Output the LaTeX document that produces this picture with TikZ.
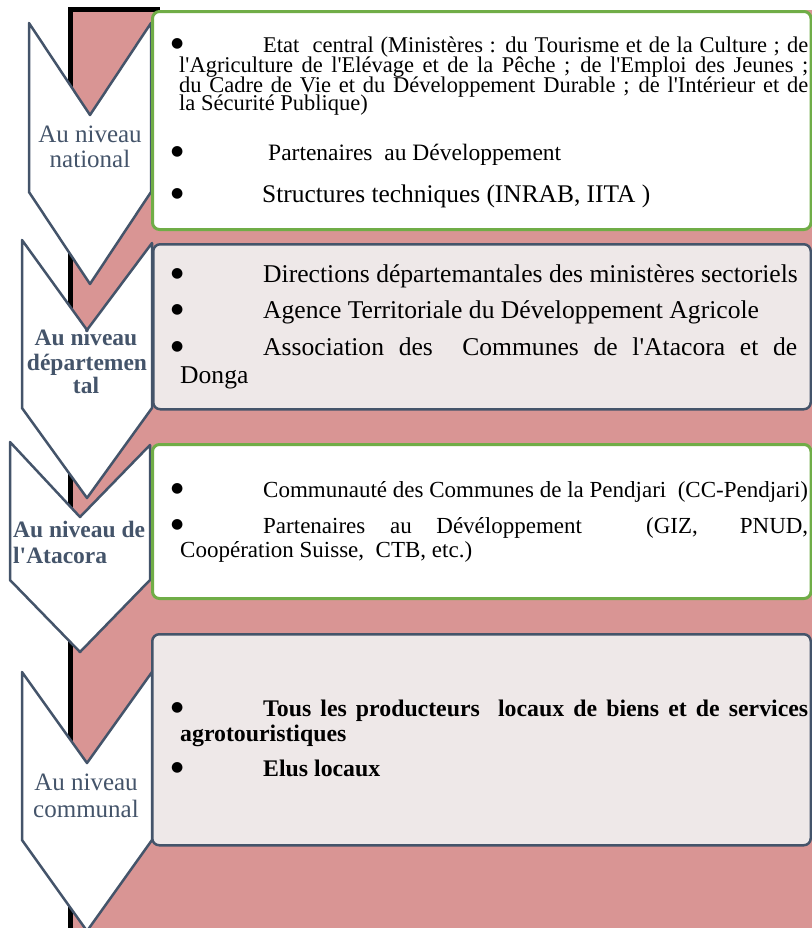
\documentclass[tikz,border=0pt]{standalone}
\usepackage{fontspec}
\setmainfont{Liberation Serif}[Ligatures=TeXOff]
\newfontfamily\dvfont{DejaVu Sans}
\definecolor{pinkbg}{HTML}{D99594}
\definecolor{slate}{HTML}{44546A}
\definecolor{grn}{HTML}{70AD47}
\definecolor{lightbox}{HTML}{EEE8E8}
\newcommand{\bu}[1][92bp]{\makebox[#1][l]{\raisebox{4.5bp}{\fontsize{14bp}{14bp}\dvfont\mdseries ●}}}
\newcommand{\fsz}[1]{\fontsize{#1bp}{#1bp}\selectfont}
\begin{document}
\begin{tikzpicture}[x=1bp,y=-1bp,
  chev/.style={draw=slate, line width=2.5bp, fill=white, line join=round},
  gbox/.style={draw=grn, line width=3bp, fill=white, rounded corners=7bp, anchor=north west, inner sep=0pt},
  sbox/.style={draw=slate, line width=2.5bp, fill=lightbox, rounded corners=7bp, anchor=north west, inner sep=0pt},
  txt/.style={inner sep=0pt, anchor=base west},
  lab/.style={inner sep=0pt, anchor=base, text=slate},
  labw/.style={inner sep=0pt, anchor=base west, text=slate}]
\useasboundingbox (0,0) rectangle (812,928);
\clip (0,0) rectangle (812,928);
% background
\fill[pinkbg] (70.5,9.5) rectangle (830,940);
\draw[line width=5bp] (70.5,940) -- (70.5,9.5) -- (160,9.5);
% chevrons
\draw[chev] (29,23) -- (90,115) -- (151,23) -- (151,192) -- (90,284) -- (29,192) -- cycle;
\draw[chev] (22,240) -- (87,330) -- (152,243) -- (152,408) -- (87,498) -- (22,408) -- cycle;
\draw[chev] (10,442) -- (80,517) -- (150,445) -- (150,580) -- (80,652) -- (10,580) -- cycle;
\draw[chev] (22,672) -- (87,763) -- (152,672) -- (152,840) -- (87,931) -- (22,840) -- cycle;
% boxes
\node[gbox, minimum width=658.5bp, minimum height=218bp] (box1) at (151,10) {};
\node[sbox, minimum width=657.5bp, minimum height=165bp] (box2) at (152,243) {};
\node[gbox, minimum width=658.5bp, minimum height=154bp] (box3) at (151,443) {};
\node[sbox, minimum width=658.5bp, minimum height=211bp] (box4) at (151,633) {};
% chevron labels
\node[lab, font=\fsz{25}] (c1a) at (90,142) {Au niveau};
\node[lab, font=\fsz{25}] (c1b) at (90,167) {national};
\node[lab, font=\fsz{23.5}\bfseries] (c2a) at (86,345) {Au niveau};
\node[lab, font=\fsz{23.5}\bfseries] (c2b) at (87,370) {départemen};
\node[lab, font=\fsz{23.5}\bfseries] (c2c) at (86,393) {tal};
\node[labw, font=\fsz{23.5}\bfseries] (c3a) at (13,537) {Au niveau de};
\node[labw, font=\fsz{23.5}\bfseries] (c3b) at (13,563) {l'Atacora};
\node[lab, font=\fsz{25}] (c4a) at (86,790) {Au niveau};
\node[lab, font=\fsz{25}] (c4b) at (86,817) {communal};
% box 1 text
\node[txt, font=\fsz{22.5}] (t11) at (171,52) {\parbox[t]{640bp}{\lineskiplimit=-100bp\baselineskip=20bp
\bu\makebox[545bp][s]{Etat\ \ central (Ministères : du Tourisme et de la Culture ; de}\\
\hspace*{8bp}\makebox[629bp][s]{l'Agriculture de l'Elévage et de la Pêche ; de l'Emploi des Jeunes ;}\\
\hspace*{8bp}\makebox[629bp][s]{du Cadre de Vie et du Développement Durable ; de l'Intérieur et de}\\[-2bp]
\hspace*{8bp}la Sécurité Publique)}};
\node[txt, font=\fsz{23.5}] (t15) at (171,160) {\bu[97bp]Partenaires\ \ au Développement};
\node[txt, font=\fsz{25.4}] (t16) at (171,202) {\bu[91bp]Structures techniques (INRAB, IITA )};
% box 2 text
\node[txt, font=\fsz{25.6}] (t21) at (171,282) {\bu Directions départemantales des ministères sectoriels};
\node[txt, font=\fsz{25.6}] (t22) at (171,318) {\bu Agence Territoriale du Développement Agricole};
\node[txt, font=\fsz{25.6}] (t23) at (171,355) {\bu\makebox[534bp][s]{Association des\ \ Communes de l'Atacora et de}};
\node[txt, font=\fsz{25.6}] (t24) at (180,383) {Donga};
% box 3 text
\node[txt, font=\fsz{23}] (t31) at (171,497) {\bu Communauté des Communes de la Pendjari\ \ (CC-Pendjari)};
\node[txt, font=\fsz{23}] (t32) at (171,533) {\bu\makebox[545bp][s]{Partenaires\hspace{0pt plus 1fil}au\hspace{0pt plus 1fil}Dévéloppement\hspace{0pt plus 2.6fil}(GIZ,\hspace{0pt plus 1.7fil}PNUD,}};
\node[txt, font=\fsz{23}] (t33) at (180,557) {Coopération Suisse,\ \ CTB, etc.)};
% box 4 text
\node[txt, font=\fsz{23.8}\bfseries] (t41) at (171,716) {\bu\makebox[545bp][s]{Tous les producteurs\ \ locaux de biens et de services}};
\node[txt, font=\fsz{23.8}\bfseries] (t42) at (180,741) {agrotouristiques};
\node[txt, font=\fsz{23.8}\bfseries] (t43) at (171,776) {\bu Elus locaux};
\end{tikzpicture}
\end{document}
